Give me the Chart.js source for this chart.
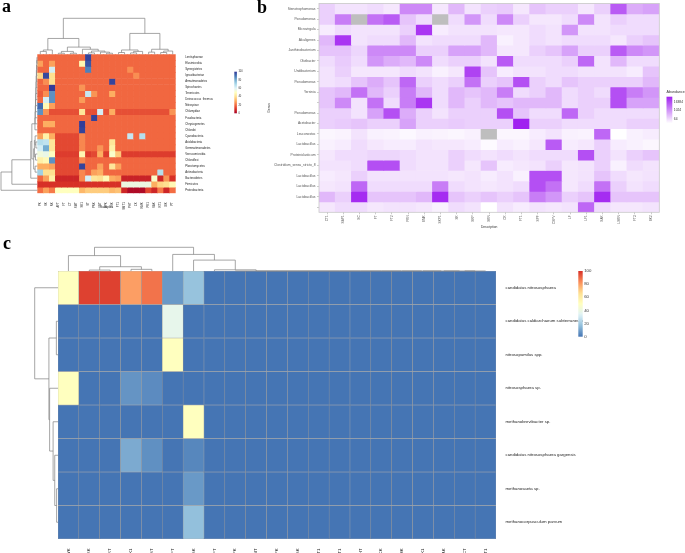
<!DOCTYPE html>
<html>
<head>
<meta charset="utf-8">
<script src="https://cdn.jsdelivr.net/npm/chart.js@4.4.1/dist/chart.umd.min.js"></script>
<style>
  body { margin: 0; background: #fff; }
  #wrap { position: relative; width: 685px; height: 553px; overflow: hidden; }
  canvas { position: absolute; }
  .tag { position: absolute; font: bold 18px "Liberation Serif", serif; line-height: 1; color: #000; }
</style>
</head>
<body>
<div id="wrap">
  <canvas id="heatA" width="252" height="213" style="left:0;top:0"></canvas>
  <canvas id="heatB" width="430" height="232" style="left:255px;top:0"></canvas>
  <canvas id="heatC" width="685" height="318" style="left:0;top:235px"></canvas>
  <div class="tag" style="left:2px;top:-3px">a</div>
  <div class="tag" style="left:257px;top:-2px">b</div>
  <div class="tag" style="left:3px;top:234px">c</div>
</div>
<script>
// ---------- panel a : phyla x samples (relative abundance, 0-100) ----------
var phylaA = ['Lentisphaerae', 'Elusimicrobia', 'Synergistetes', 'Ignavibacteriae', 'Armatimonadetes',
  'Spirochaetes', 'Tenericutes', 'Deinococcus_thermus', 'Nitrospirae', 'Chlamydiae', 'Fusobacteria',
  'Chrysiogenetes', 'Chlorobi', 'Cyanobacteria', 'Acidobacteria', 'Gemmatimonadetes', 'Verrucomicrobia',
  'Chloroflexi', 'Planctomycetes', 'Actinobacteria', 'Bacteroidetes', 'Firmicutes', 'Proteobacteria'];
var samplesA = ['PK', 'SK', 'RK', 'AFT', 'FT', 'CT', 'SMT', 'SK1', 'ST', 'PRK', 'VRT', 'APK', 'VSK',
  'FT1', 'SMT1', 'PHT', 'CK', 'RMK', 'PK1', 'SAK', 'RT1', 'WK', 'PT'];
var abundA = [
  [19,19,19,19,19,19,19,19,98,19,19,19,19,19,19,19,19,19,19,19,19,19,19],
  [28,19,28,19,19,19,19,47,95,19,19,19,19,19,19,19,19,19,19,19,19,19,19],
  [19,19,62,19,19,19,19,19,88,19,19,19,19,19,19,25,19,19,19,19,19,19,19],
  [38,97,40,19,19,19,19,19,19,19,19,19,19,19,19,19,25,19,19,19,19,19,19],
  [19,25,40,19,19,19,19,19,19,19,19,19,98,19,19,19,19,19,19,19,19,19,19],
  [19,19,99,19,19,19,19,26,19,19,19,19,19,19,19,19,19,19,19,19,19,19,19],
  [17,25,85,19,19,19,19,19,65,26,19,19,30,19,19,19,19,19,19,19,19,19,19],
  [19,62,85,19,19,19,19,27,19,19,19,19,19,19,19,19,19,19,19,19,19,19,19],
  [92,48,28,19,19,19,19,19,19,19,19,19,19,19,19,19,19,19,19,19,19,19,19],
  [85,26,15,15,15,15,15,42,15,15,62,15,30,15,15,15,15,15,15,15,15,15,26],
  [19,19,19,19,19,19,19,19,19,98,19,19,19,19,19,19,19,19,19,19,19,19,19],
  [19,30,30,19,19,19,19,99,19,19,19,19,19,19,19,19,19,19,19,19,19,19,19],
  [19,19,19,19,19,19,19,98,19,19,19,19,19,19,19,19,19,19,19,19,19,19,19],
  [28,45,30,14,14,14,14,24,19,19,19,19,19,19,19,65,19,68,19,19,19,19,19],
  [68,66,42,14,14,14,14,24,19,19,19,19,42,19,19,19,19,19,19,19,19,19,19],
  [62,80,42,14,14,14,14,24,19,19,26,19,45,19,19,19,19,19,19,19,19,19,19],
  [55,57,50,12,12,12,12,47,12,14,30,12,52,35,12,12,12,12,12,12,12,12,12],
  [45,48,85,14,14,14,14,24,19,19,19,19,19,19,19,19,19,19,19,19,19,19,19],
  [30,30,28,14,14,14,14,98,19,19,28,19,42,28,19,19,19,19,19,19,19,19,19],
  [72,40,40,14,14,14,14,24,19,28,30,19,19,19,19,19,19,19,19,19,68,19,19],
  [19,28,45,8,8,8,8,24,62,42,40,48,30,28,7,7,7,7,7,52,8,26,10],
  [10,10,10,10,10,10,10,10,10,10,10,10,10,10,56,56,56,56,56,30,38,40,48],
  [20,28,22,50,50,50,50,32,36,36,36,36,32,34,8,2,2,2,14,8,22,8,20]
];
// hclust style merges: negative = leaf (1-based), positive = earlier merge; third value = height
var sampleTreeA = [[-1,-2,8],[1,-3,12],[-4,-5,3],[-6,-7,3],[3,4,8],[-9,-10,4],[-12,-13,3],[-11,7,6],
  [6,8,9],[-8,9,14],[5,10,20],[2,11,44],[-14,-15,5],[-16,-17,4],[14,-18,8],[13,15,12],[-19,-20,6],
  [-21,-22,5],[18,-23,9],[17,19,14],[16,20,58],[12,21,100]];
var phylumTreeA = [[-1,-2,1],[1,-3,1.5],[2,-4,2],[3,-5,2.5],[4,-6,3],[5,-7,3.5],[6,-8,4],[7,-9,4.5],
  [8,-10,5],[9,-11,5.5],[10,-12,6],[11,-13,6.5],[-15,-16,4],[-14,13,6],[-17,-18,5],[14,15,8],
  [-19,-20,6],[16,17,10],[12,18,15],[19,-21,18],[20,-22,70],[21,-23,100]];
var barTicksA = [0, 20, 40, 60, 80, 100];

// ---------- panel b : genus x description (log2 abundance, NA = null) ----------
var generaB = ['Stenotrophomonas', 'Pseudomonas', 'Microvirgula', 'Alcaligenes', 'Janthinobacterium',
  'Olivibacter', 'Undibacterium', 'Pseudomonas', 'Yersinia', '', 'Pseudomonas', 'Acetobacter',
  'Leuconostoc', 'Lactobacillus', 'Proteiniclasticum', 'Clostridium_sensu_stricto_8', 'Lactobacillus',
  'Lactobacillus', 'Lactobacillus', ''];
var descB = ['CT1', 'SAP1', 'SC', 'FT', 'FT2', 'PKN', 'SMK', 'SKP1', 'SK', 'SKP', 'SKR', 'CK', 'FT1',
  'SPF', 'CSPV', 'LF', 'LF1', 'SAK', 'LSKR', 'FT3', 'SK2'];
var log2AbundB = [
  [6.5,5.4,5.4,5.8,5.2,10.6,10.6,5.2,7.9,5.4,6.5,6.8,5.2,7.2,6.5,6.5,5.2,6.5,13.3,8.6,9.2],
  [6.5,11.3,null,12.0,13.3,7.2,5.8,null,5.8,9.9,5.8,10.6,6.5,5.2,5.2,5.8,10.6,5.4,6.5,5.8,5.8],
  [4.9,5.8,5.4,5.4,5.4,6.5,15.4,4.9,5.4,5.4,5.4,5.2,5.2,5.8,5.4,9.9,5.4,5.4,5.8,5.8,5.8],
  [7.9,15.4,5.4,5.8,5.8,7.9,5.4,5.8,5.8,5.8,7.9,4.6,5.2,5.8,5.4,5.8,5.8,5.8,5.2,6.5,7.2],
  [7.2,7.2,6.2,10.6,10.6,10.6,6.5,6.5,9.2,9.2,7.9,5.2,5.2,6.5,7.2,9.2,6.5,6.5,13.3,10.6,9.9],
  [5.8,6.8,5.8,9.9,8.6,7.9,10.6,5.8,6.5,6.5,5.4,13.3,5.8,5.8,5.8,6.5,12.6,5.4,7.9,5.8,5.8],
  [5.4,6.5,5.2,5.2,5.2,5.8,5.4,4.6,5.2,14.7,7.2,4.9,5.4,5.4,5.8,5.8,5.4,5.4,5.4,4.9,7.2],
  [5.4,5.8,7.2,8.6,7.2,12.6,6.5,5.8,6.5,12.0,6.5,7.2,14.0,6.5,5.8,7.2,6.5,6.5,6.5,6.5,7.9],
  [7.2,7.9,12.0,7.9,6.5,11.3,7.9,5.8,7.9,7.2,7.9,11.3,5.8,6.5,7.9,5.8,6.5,5.8,14.0,11.3,9.9],
  [7.2,10.6,5.4,12.0,5.8,11.3,15.4,5.8,7.9,6.5,7.9,7.2,7.9,7.9,7.9,5.8,6.5,6.5,14.0,9.2,9.2],
  [6.5,6.5,5.4,9.2,14.0,8.6,6.5,5.4,6.5,6.5,6.5,14.0,7.2,5.8,5.8,12.6,6.5,5.8,5.8,5.8,5.8],
  [6.5,6.8,7.2,6.5,6.5,9.2,6.5,6.5,6.8,6.5,6.5,6.5,16.7,6.5,6.5,5.8,5.8,5.8,5.8,6.5,6.5],
  [4.3,4.5,5.4,4.6,4.5,4.2,4.6,4.5,4.3,4.6,null,4.3,4.3,4.9,5.4,4.6,4.5,12.6,3.8,4.6,4.9],
  [4.6,4.9,5.8,5.2,4.9,4.9,5.4,5.2,5.2,4.9,4.1,4.9,4.6,5.2,13.3,4.9,5.2,6.5,4.9,4.6,4.3],
  [5.2,5.8,5.8,6.2,6.2,5.8,5.4,5.4,6.5,5.8,5.4,5.8,5.4,5.8,5.8,5.8,14.0,6.5,5.4,6.5,7.2],
  [5.4,5.4,5.8,14.0,14.0,5.8,5.4,5.4,6.5,5.2,7.2,4.9,5.2,5.4,6.5,5.2,5.4,6.5,4.6,5.8,5.4],
  [4.9,5.2,6.5,5.4,5.4,5.4,5.4,5.4,5.2,5.4,4.9,5.4,4.6,14.0,14.0,5.2,5.4,7.2,5.8,5.2,5.4],
  [5.2,5.4,12.6,5.8,5.8,5.8,5.8,11.3,5.8,5.4,5.2,5.4,5.8,14.0,12.0,5.2,5.8,12.0,6.5,5.4,5.8],
  [7.9,6.5,16.0,7.2,7.2,7.2,7.9,16.0,7.2,6.5,7.2,6.5,7.2,11.3,9.9,6.5,7.2,16.0,7.2,7.2,7.2],
  [5.2,5.8,5.8,5.2,5.4,5.4,5.2,4.6,5.8,5.4,3.8,5.4,4.9,5.4,5.2,5.4,12.6,5.8,5.2,5.2,5.4]
];
var barTicksB = [64, 1024, 16384];

// ---------- panel c : archaea x samples (relative abundance, 0-100) ----------
var taxaC = ['candidatus nitrososphaera', 'candidatus caldiarchaeum subterraneum', 'nitrosopumilus spp.',
  'nitrososphaera sp.', 'methanobrevibacter sp.', 'candidatus nitrososphaera gargensis',
  'methanosaeta sp.', 'methanocorpusculum parvum'];
var samplesC = ['WK', 'PRK', 'VRT', 'SK1', 'ST', 'AFT', 'SK', 'FT', 'PK', 'SMT', 'APK', 'VSK', 'FT1',
  'SMT1', 'PHT', 'CK', 'RMK', 'PK1', 'SAK', 'CT', 'RT1'];
var abundC = [
  [50,97,97,80,88,8,18,0,0,0,0,0,0,0,0,0,0,0,0,0,0],
  [0,0,0,0,0,37,0,0,0,0,0,0,0,0,0,0,0,0,0,0,0],
  [0,0,0,0,0,50,0,0,0,0,0,0,0,0,0,0,0,0,0,0,0],
  [50,0,0,7,5,0,0,0,0,0,0,0,0,0,0,0,0,0,0,0,0],
  [0,0,0,0,0,0,50,0,0,0,0,0,0,0,0,0,0,0,0,0,0],
  [0,0,0,12,6,0,4,0,0,0,0,0,0,0,0,0,0,0,0,0,0],
  [0,0,0,0,0,0,8,0,0,0,0,0,0,0,0,0,0,0,0,0,0],
  [0,0,0,0,0,0,17,0,0,0,0,0,0,0,0,0,0,0,0,0,0]
];
var sampleTreeC = [[-2,-3,4],[-4,-5,7],[1,2,18],[-1,3,65],[-20,-21,0.2],[-19,5,0.2],[-18,6,0.2],
  [-17,7,0.2],[-16,8,0.2],[-15,9,0.2],[-14,10,0.2],[-13,11,0.2],[-12,12,0.2],[-11,13,0.2],[-10,14,0.2],
  [-9,15,0.2],[-8,16,5],[-7,17,46],[-6,18,70],[4,19,100]];
var taxonTreeC = [[-2,-3,7],[-7,-8,6],[-6,2,14],[-5,3,21],[-4,4,36],[1,5,39],[-1,6,100]];
var barTicksC = [0, 20, 40, 60, 80, 100];

var FONT = "'Liberation Sans', Arial, sans-serif";
Chart.defaults.font.family = FONT;

function ramp(stops) {
  var rgb = stops.map(function (h) {
    return [1, 3, 5].map(function (i) { return parseInt(h.substr(i, 2), 16); });
  });
  return function (t) {
    t = Math.max(0, Math.min(1, t));
    var p = t * (rgb.length - 1), i = Math.min(Math.floor(p), rgb.length - 2), f = p - i;
    var c = rgb[i].map(function (v, k) { return Math.round(v + (rgb[i + 1][k] - v) * f); });
    return 'rgb(' + c.join(',') + ')';
  };
}
var rdylbu11 = ramp(['#a50026', '#d73027', '#f46d43', '#fdae61', '#fee090', '#ffffbf',
  '#e0f3f8', '#abd9e9', '#74add1', '#4575b4', '#313695']);
var blueRed7 = ramp(['#4575b4', '#91bfdb', '#e0f3f8', '#ffffbf', '#fee090', '#fc8d59', '#d73027']);
var whitePurple = ramp(['#ffffff', '#a020f0']);

var flatB = [].concat.apply([], log2AbundB).filter(function (v) { return v !== null; });
var loB = Math.min.apply(null, flatB), hiB = Math.max.apply(null, flatB);

// one floating-bar dataset per heatmap row
function cellSets(rows, values, colorOf, border) {
  return rows.map(function (name, r) {
    return {
      label: name,
      data: values[r].map(function () { return [r, r + 1]; }),
      backgroundColor: values[r].map(colorOf),
      borderColor: border || 'rgba(0,0,0,0)',
      borderWidth: border ? 0.5 : 0,
      borderSkipped: false,
      grouped: false,
      barPercentage: 1,
      categoryPercentage: 1
    };
  });
}

function rowAxis(rows, position, width, size, color) {
  return {
    position: position, reverse: true, min: 0, max: rows.length,
    afterBuildTicks: function (s) { s.ticks = rows.map(function (n, i) { return { value: i + 0.5 }; }); },
    afterFit: function (s) { s.width = width; },
    ticks: { callback: function (v, i) { return rows[i]; }, autoSkip: false, padding: 1.5,
      font: { size: size }, color: color },
    grid: { display: false }, border: { display: false }
  };
}

function drawTree(chart, merges, side, unit) {
  var ctx = chart.ctx, area = chart.chartArea, nodes = [];
  function node(k) { return k < 0 ? { pos: -k - 1, h: 0 } : nodes[k - 1]; }
  merges.forEach(function (m) {
    var a = node(m[0]), b = node(m[1]);
    nodes.push({ pos: (a.pos + b.pos) / 2, h: m[2], a: a, b: b });
  });
  function pt(pos, h) {
    if (side === 'top') return [chart.scales.x.getPixelForValue(pos), area.top - h * unit];
    return [area.left - h * unit, chart.scales.y.getPixelForValue(pos + 0.5)];
  }
  ctx.save();
  ctx.strokeStyle = '#808080';
  ctx.lineWidth = 0.7;
  ctx.beginPath();
  nodes.forEach(function (n) {
    var p = [pt(n.a.pos, n.a.h), pt(n.a.pos, n.h), pt(n.b.pos, n.h), pt(n.b.pos, n.b.h)];
    ctx.moveTo(p[0][0], p[0][1]);
    for (var i = 1; i < 4; i++) ctx.lineTo(p[i][0], p[i][1]);
  });
  ctx.stroke();
  ctx.restore();
}

function drawColorBar(chart, box, colorOf, lo, hi, ticks, toValue, size) {
  var ctx = chart.ctx;
  var g = ctx.createLinearGradient(0, box.y + box.h, 0, box.y);
  for (var i = 0; i <= 20; i++) g.addColorStop(i / 20, colorOf(i / 20));
  ctx.save();
  ctx.fillStyle = g;
  ctx.fillRect(box.x, box.y, box.w, box.h);
  ctx.fillStyle = '#333';
  ctx.font = size + 'px ' + FONT;
  ctx.textBaseline = 'middle';
  ticks.forEach(function (t) {
    var y = box.y + box.h - (toValue(t) - lo) / (hi - lo) * box.h;
    ctx.fillText(String(t), box.x + box.w + 1.5, y);
  });
  ctx.restore();
}

// ---------- chart a ----------
new Chart(document.getElementById('heatA'), {
  type: 'bar',
  data: { labels: samplesA, datasets: cellSets(phylaA, abundA, function (v) { return rdylbu11(v / 100); }) },
  options: {
    responsive: false, animation: false,
    plugins: { legend: { display: false }, tooltip: { enabled: false } },
    layout: { padding: { left: 37.3, top: 54.3, right: 0, bottom: 0 } },
    scales: {
      x: {
        ticks: { font: { size: 2.8 }, color: '#222', maxRotation: 90, minRotation: 90, autoSkip: false, padding: 1 },
        grid: { display: false }, border: { display: false },
        title: { display: true, text: 'Samples', font: { size: 3.4 }, color: '#333', padding: { top: 0, bottom: 4 } },
        afterFit: function (s) { s.height = 19.7; }
      },
      y: rowAxis(phylaA, 'right', 76.3, 2.8, '#222')
    }
  },
  plugins: [{
    id: 'extrasA',
    afterDraw: function (chart) {
      drawTree(chart, sampleTreeA, 'top', 0.36);
      drawTree(chart, phylumTreeA, 'left', 0.363);
      drawColorBar(chart, { x: 234.3, y: 71.7, w: 2.6, h: 41.6 }, rdylbu11, 0, 100, barTicksA,
        function (t) { return t; }, 2.6);
    }
  }]
});

// ---------- chart b ----------
new Chart(document.getElementById('heatB'), {
  type: 'bar',
  data: {
    labels: descB,
    datasets: cellSets(generaB, log2AbundB, function (v) {
      return v === null ? '#bebebe' : whitePurple((v - loB) / (hiB - loB));
    })
  },
  options: {
    responsive: false, animation: false,
    plugins: { legend: { display: false }, tooltip: { enabled: false } },
    layout: { padding: { left: 8.3, top: 2, right: 25.7, bottom: 0 } },
    scales: {
      x: {
        ticks: { font: { size: 3.2 }, color: '#555', maxRotation: 90, minRotation: 90, autoSkip: false, padding: 1 },
        grid: { display: true, drawOnChartArea: false, offset: false, tickLength: 2, color: '#999', lineWidth: 0.5 },
        border: { display: false },
        title: { display: true, text: 'Description', font: { size: 3.3 }, color: '#333', padding: { top: 0, bottom: 2.6 } },
        afterFit: function (s) { s.height = 19.7; }
      },
      y: Object.assign(rowAxis(generaB, 'left', 55.7, 3.3, '#555'), {
        grid: { display: true, drawOnChartArea: false, tickLength: 2, color: '#999', lineWidth: 0.5 },
        title: { display: true, text: 'Genus', font: { size: 3.3 }, color: '#333', padding: { top: 4, bottom: 0 } }
      })
    }
  },
  plugins: [{
    id: 'extrasB',
    afterDraw: function (chart) {
      var a = chart.chartArea, ctx = chart.ctx;
      ctx.save();
      ctx.strokeStyle = '#c8c8c8';
      ctx.lineWidth = 0.8;
      ctx.strokeRect(a.left, a.top, a.right - a.left, a.bottom - a.top);
      ctx.fillStyle = '#333';
      ctx.font = '3.6px ' + FONT;
      ctx.textBaseline = 'middle';
      ctx.fillText('Abundance', 411.5, 92);
      ctx.restore();
      drawColorBar(chart, { x: 411.5, y: 96.7, w: 5.8, h: 26.6 }, whitePurple, loB, hiB, barTicksB,
        function (t) { return Math.log2(t); }, 3.3);
    }
  }]
});

// ---------- chart c ----------
new Chart(document.getElementById('heatC'), {
  type: 'bar',
  data: { labels: samplesC, datasets: cellSets(taxaC, abundC, function (v) { return blueRed7(v / 100); }, '#9a9a9a') },
  options: {
    responsive: false, animation: false,
    plugins: { legend: { display: false }, tooltip: { enabled: false } },
    layout: { padding: { left: 58, top: 36, right: 0, bottom: 0 } },
    scales: {
      x: {
        ticks: { font: { size: 4.3 }, color: '#222', maxRotation: 90, minRotation: 90, autoSkip: false, padding: 1.5 },
        grid: { display: false }, border: { display: false },
        afterFit: function (s) { s.height = 14; }
      },
      y: rowAxis(taxaC, 'right', 189, 4.3, '#222')
    }
  },
  plugins: [{
    id: 'extrasC',
    afterDraw: function (chart) {
      drawTree(chart, sampleTreeC, 'top', 0.237);
      drawTree(chart, taxonTreeC, 'left', 0.233);
      drawColorBar(chart, { x: 578.3, y: 36, w: 4.4, h: 65.7 }, blueRed7, 0, 100, barTicksC,
        function (t) { return t; }, 4.3);
    }
  }]
});
</script>
</body>
</html>
